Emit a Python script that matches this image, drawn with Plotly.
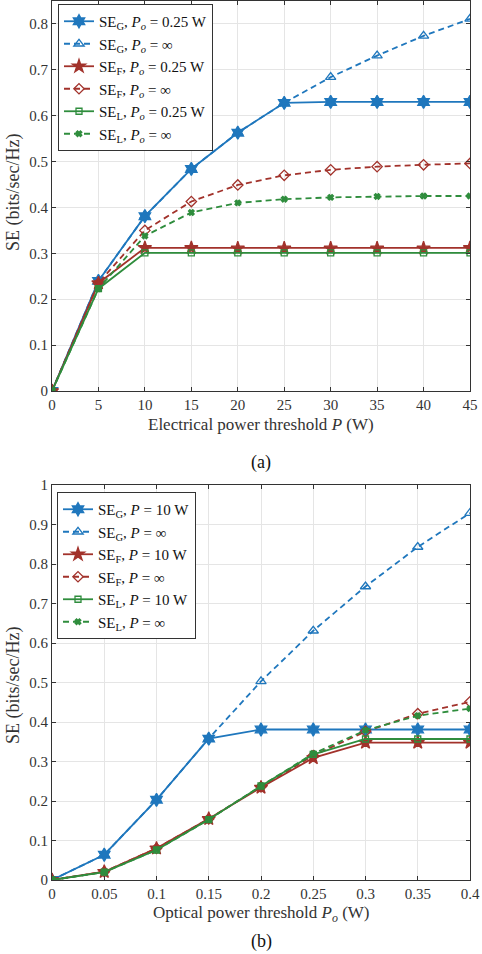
import plotly.graph_objs as go
from plotly.subplots import make_subplots

# (a) SE vs electrical power threshold P
p_elec = [0, 5, 10, 15, 20, 25, 30, 35, 40, 45]
se_g_po = [0, 0.240, 0.381, 0.484, 0.563, 0.628, 0.630, 0.630, 0.630, 0.630]
se_g_po_inf = [0, 0.240, 0.381, 0.484, 0.563, 0.628, 0.684, 0.731, 0.774, 0.811]
se_f_po = [0, 0.235, 0.312, 0.312, 0.311, 0.311, 0.311, 0.311, 0.311, 0.312]
se_f_po_inf = [0, 0.235, 0.350, 0.413, 0.449, 0.470, 0.482, 0.489, 0.493, 0.496]
se_l_po = [0, 0.223, 0.301, 0.301, 0.301, 0.301, 0.301, 0.301, 0.301, 0.301]
se_l_po_inf = [0, 0.223, 0.338, 0.389, 0.410, 0.418, 0.422, 0.424, 0.425, 0.425]

# (b) SE vs optical power threshold Po
p_opt = [0, 0.05, 0.1, 0.15, 0.2, 0.25, 0.3, 0.35, 0.4]
p_opt_labels = ['0', '0.05', '0.1', '0.15', '0.2', '0.25', '0.3', '0.35', '0.4']
se_g_p = [0, 0.064, 0.203, 0.358, 0.381, 0.381, 0.381, 0.381, 0.381]
se_g_p_inf = [0, 0.064, 0.203, 0.358, 0.503, 0.631, 0.743, 0.843, 0.929]
se_f_p = [0, 0.021, 0.080, 0.155, 0.234, 0.309, 0.348, 0.348, 0.348]
se_f_p_inf = [0, 0.021, 0.080, 0.155, 0.236, 0.315, 0.376, 0.421, 0.451]
se_l_p = [0, 0.020, 0.076, 0.153, 0.238, 0.318, 0.357, 0.357, 0.357]
se_l_p_inf = [0, 0.020, 0.076, 0.153, 0.238, 0.320, 0.379, 0.416, 0.434]

BLUE = '#1f77bd'
RED = '#a2322b'
GREEN = '#2f8d3d'
FONT = 'Liberation Serif'

W, H = 482, 954
L_PX, R_PX = 52, 470  # plot area edges in pixels


def py(p):
    # pixel row -> paper y
    return 1 - p / H


def px(p):
    # pixel column -> paper x (relative to plot area)
    return (p - L_PX) / (R_PX - L_PX)


fig = make_subplots(rows=2, cols=1)


def add_set(row, x, data, cond):
    specs = [
        (data[0], 'SE<sub>G</sub>, ' + cond[0], BLUE, 'solid', 'hexagram', 10),
        (data[1], 'SE<sub>G</sub>, ' + cond[1], BLUE, 'dash', 'triangle-up-open', 9),
        (data[2], 'SE<sub>F</sub>, ' + cond[0], RED, 'solid', 'star', 10),
        (data[3], 'SE<sub>F</sub>, ' + cond[1], RED, 'dash', 'diamond-open', 8),
        (data[4], 'SE<sub>L</sub>, ' + cond[0], GREEN, 'solid', 'square-open', 6),
        (data[5], 'SE<sub>L</sub>, ' + cond[1], GREEN, 'dash', 'x', 5),
    ]
    for y, name, color, dash, symbol, size in specs:
        fig.add_trace(go.Scatter(
            x=x, y=y, mode='lines+markers', name=name,
            legend='legend' if row == 1 else 'legend2',
            line=dict(color=color, width=1.8, dash='6px,4px' if dash == 'dash' else 'solid'),
            marker=dict(symbol=symbol, size=size, color=color, line=dict(color=color, width=1.3)),
        ), row=row, col=1)


add_set(1, p_elec, [se_g_po, se_g_po_inf, se_f_po, se_f_po_inf, se_l_po, se_l_po_inf],
        ['<i>P<sub>o</sub></i> = 0.25 W', '<i>P<sub>o</sub></i> = ∞'])
add_set(2, p_opt, [se_g_p, se_g_p_inf, se_f_p, se_f_p_inf, se_l_p, se_l_p_inf],
        ['<i>P</i> = 10 W', '<i>P</i> = ∞'])

axis_style = dict(
    showgrid=True, gridcolor='#e5e5e5', gridwidth=1,
    showline=True, linecolor='#333333', linewidth=1, mirror='ticks',
    ticks='inside', ticklen=4, tickcolor='#333333',
    tickfont=dict(family=FONT, size=15, color='#333333'),
    zeroline=False, automargin=False,
)
fig.update_xaxes(axis_style)
fig.update_yaxes(axis_style)

legend_style = dict(xanchor='left', yanchor='top',
                    bgcolor='white', bordercolor='#333333', borderwidth=1,
                    font=dict(family=FONT, size=15, color='#111111'),
                    tracegroupgap=0, itemwidth=30)

label_font = dict(family=FONT, size=17, color='#333333')

fig.update_layout(
    xaxis=dict(domain=[0, 1], range=[0, 45], tickvals=p_elec),
    yaxis=dict(domain=[py(391), py(1)], range=[0, 0.85],
               tickvals=[0, 0.1, 0.2, 0.3, 0.4, 0.5, 0.6, 0.7, 0.8]),
    xaxis2=dict(domain=[0, 1], range=[0, 0.4], tickvals=p_opt, ticktext=p_opt_labels),
    yaxis2=dict(domain=[py(880), py(485)], range=[0, 1],
                tickvals=[0, 0.1, 0.2, 0.3, 0.4, 0.5, 0.6, 0.7, 0.8, 0.9, 1]),
    width=W, height=H,
    margin=dict(l=L_PX, r=W - R_PX, t=0, b=0),
    plot_bgcolor='white', paper_bgcolor='white',
    font=dict(family=FONT, size=15, color='#222222'),
    legend=dict(x=px(58), y=py(4), **legend_style),
    legend2=dict(x=px(57), y=py(492), **legend_style),
    annotations=[
        dict(text='Electrical power threshold <i>P</i> (W)', x=0.5, y=py(424),
             xref='paper', yref='paper', showarrow=False, font=label_font),
        dict(text='(a)', x=0.5, y=py(462), xref='paper', yref='paper',
             showarrow=False, font=dict(family=FONT, size=18, color='#111111')),
        dict(text='Optical power threshold <i>P<sub>o</sub></i> (W)', x=0.5, y=py(914),
             xref='paper', yref='paper', showarrow=False, font=label_font),
        dict(text='(b)', x=0.5, y=py(941), xref='paper', yref='paper',
             showarrow=False, font=dict(family=FONT, size=18, color='#111111')),
        dict(text='SE (bits/sec/Hz)', x=px(13), y=py(193), xref='paper', yref='paper',
             textangle=-90, showarrow=False, font=dict(family=FONT, size=18, color='#333333')),
        dict(text='SE (bits/sec/Hz)', x=px(13), y=py(686), xref='paper', yref='paper',
             textangle=-90, showarrow=False, font=dict(family=FONT, size=18, color='#333333')),
    ],
)
fig.update_annotations(xanchor='center', yanchor='middle')

# drop the default page margin so the figure sits at the window's corner
fig.write_html("out.html", config={'displayModeBar': False},
               post_script="document.body.style.margin='0';")
